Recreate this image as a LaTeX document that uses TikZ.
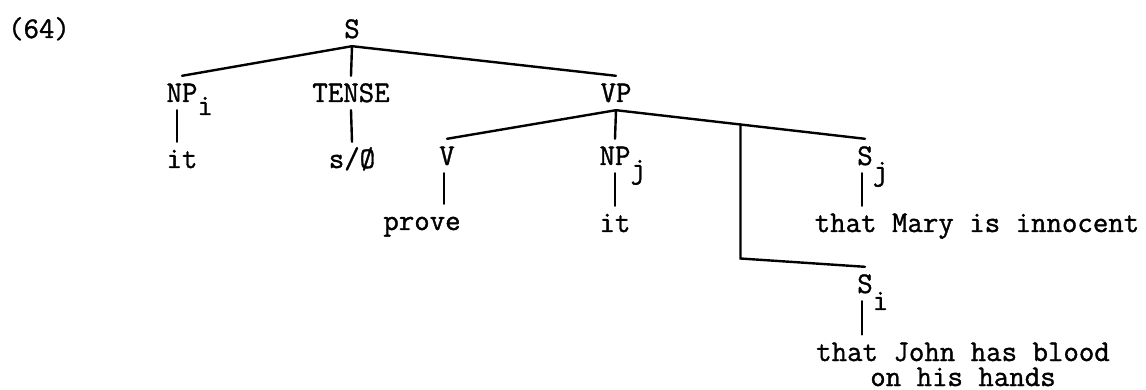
\documentclass[tikz,border=0pt]{standalone}
\usepackage{fontspec}
\newfontfamily\treefam[FakeBold=1.2]{Latin Modern Mono}
\newcommand\treefont{\treefam\fontsize{30}{25}\selectfont}
\tikzset{
  lab0/.style={font=\treefont, inner xsep=0pt, inner ysep=8pt, anchor=base},
  lab/.style={lab0, text height=18pt, text depth=0pt},
  br/.style={line width=2.4pt, line cap=round},
}
\begin{document}
\begin{tikzpicture}[x=1pt,y=-1pt]
\useasboundingbox[fill=white] (0,0) rectangle (1146,390);
\node[lab] (n64) at (39,38) {(64)};
\node[lab] (S) at (352,38) {S};
\node[lab] (NPi) at (182,102) {NP\rlap{\raisebox{-13pt}{i}}};
\node[lab] (T) at (351,102) {TENSE};
\node[lab] (VP) at (616,102) {VP};
\node[lab] (it1) at (182,168) {it};
\node[lab] (sO) at (352,168) {s/\O};
\node[lab] (V) at (447,165) {V};
\node[lab] (NPj) at (615,165) {NP\rlap{\raisebox{-13pt}{j}}};
\node[lab] (Sj) at (865,165) {S\rlap{\raisebox{-15pt}{j}}};
\node[lab] (prove) at (422,230) {prove};
\node[lab] (it2) at (615,232) {it};
\node[lab] (tm) at (977,232) {that Mary is innocent};
\node[lab] (Si) at (865,293) {S\rlap{\raisebox{-17pt}{i}}};
\node[lab0, align=center] (tj) at (963,386) {that John has blood\\on his hands};

\draw[br] (S.south) -- (NPi.north);
\draw[br] (S.south) -- (T.north);
\draw[br] (S.south) -- (VP.north);
\draw[br] ([xshift=-5pt]NPi.south) -- ([xshift=-5pt]NPi.south |- it1.north);
\draw[br] (T.south) -- (sO.north);
\draw[br] (VP.south) -- (V.north);
\draw[br] (VP.south) -- (NPj.north);
\draw[br] (VP.south) -- coordinate[pos=0.5] (jn) (Sj.north);
\draw[br] (jn) -- ++(0,134) coordinate (bend) -- (Si.north);
\draw[br] ([xshift=-3pt]V.south) -- ([xshift=-3pt]V.south |- prove.north);
\draw[br] (NPj.south) -- (it2.north);
\draw[br] ([xshift=-3pt]Sj.south) -- ([xshift=-3pt]Sj.south |- tm.north);
\draw[br] ([xshift=-3pt]Si.south) -- ([xshift=-3pt]Si.south |- tj.north);
\end{tikzpicture}
\end{document}
